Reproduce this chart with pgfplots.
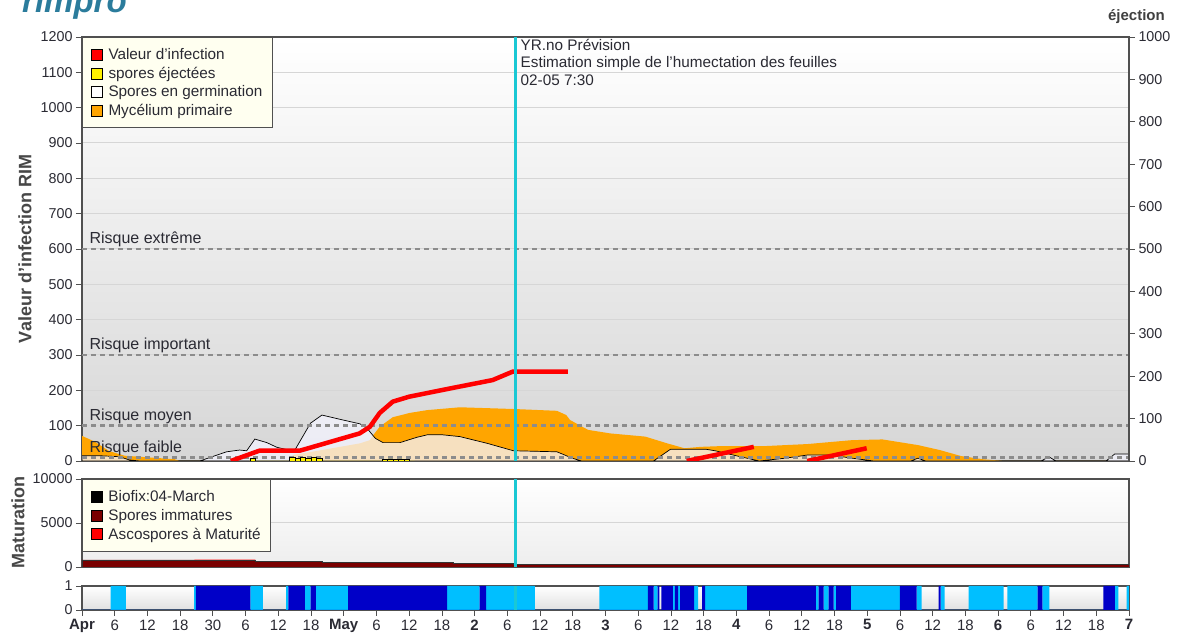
\documentclass[border=0pt]{standalone}
\usepackage{fontspec}
\setmainfont{Liberation Sans}
\usepackage{pgfplots}
\pgfplotsset{compat=1.18}
\definecolor{orangeM}{HTML}{FFA500}
\definecolor{lblue}{HTML}{00BFFF}
\definecolor{dblue}{HTML}{0000C8}
\definecolor{cyanV}{HTML}{1AC8D4}
\definecolor{axgray}{HTML}{505050}
\definecolor{txt}{HTML}{2A2A33}
\definecolor{darkredM}{HTML}{7A0000}
\definecolor{legbg}{HTML}{FFFFF0}
\definecolor{logo}{HTML}{2B7C9C}
\definecolor{germ}{HTML}{F4F4FF}
\pgfplotsset{
  every axis/.append style={
    scale only axis,
    /pgf/number format/assume math mode=true,
    /pgf/number format/set thousands separator={},
    scaled y ticks=false,
    axis line style={axgray, line width=1.2pt},
    tick style={axgray, line width=0.8pt},
    tick align=outside, major tick length=6pt,
    yticklabel style={font=\fontsize{14.3}{16}\selectfont, text=txt},
    xticklabel style={font=\fontsize{15}{17}\selectfont, text=txt},
    grid style={black!16, line width=1pt},
    legend image code/.code={\draw[#1, draw=black, line width=0.6pt] (0pt,-5.5pt) rectangle (11pt,5.5pt); \path (15pt,0pt);},
  },
  riskline/.style={black!45, line width=2.4pt, dash pattern=on 5pt off 4pt, forget plot},
}
\tikzset{risklabel/.style={anchor=base west, font=\fontsize{16}{18}\selectfont, text=txt, xshift=4pt, yshift=5pt}}
\begin{document}
\begin{tikzpicture}
\useasboundingbox (0pt,0pt) rectangle (1184pt,636pt);
% logo and right title
\node[anchor=base west, inner sep=0pt, font=\fontsize{33}{36}\selectfont\bfseries\itshape, text=logo] at (22pt,623pt) {rimpro};
\node[anchor=base east, inner sep=0pt, font=\fontsize{15}{17}\selectfont\bfseries, text=black!75] at (1165pt,615pt) {éjection};

% ================= MAIN PANEL =================
\begin{axis}[
  at={(82pt,175pt)}, anchor=south west,
  width=1047pt, height=424pt,
  xmin=0, xmax=192, ymin=0, ymax=1200,
  xtick=\empty, ytick={0,100,...,1200}, ytick pos=left,
  ymajorgrids,
  axis background/.style={top color=white, bottom color=black!16},
  ylabel={\bfseries Valeur d'infection RIM},
  ylabel style={at={(axis description cs:-0.0545,0.5)}, anchor=center, font=\fontsize{18}{20}\selectfont, text=black!72},
  legend style={at={(axis description cs:0,1)}, anchor=north west, fill=legbg, draw=axgray, line width=1.2pt,
    font=\fontsize{15.3}{17}\selectfont, text=txt, cells={anchor=west}, row sep=1.8pt, inner xsep=8pt, inner ysep=9pt},
]
% Mycelium primaire
\addplot[fill=orangeM, draw=none, forget plot] coordinates {
(0,71)(2.3,55)(5,28)(7.8,15)(12.4,10)(17,5)(17.9,0)(38.1,0)(38.7,17)(43.6,30)(47.3,40)(51,50)(52.8,59)(53.5,75)(54.6,97)(57,124)(60.1,136)(63.3,144)(69.3,152)(75.4,149)(79.4,147)(87.1,142)(88.8,130)(89.5,116)(92.8,88)(96.9,78)(103.3,69)(107.3,50)(110.5,36)(113.4,40)(116.9,42)(125,42)(133.1,48)(141.2,59)(146.8,61)(153.3,45)(157.3,31)(161.2,14)(165.2,5)(169.2,0)(192,0)} \closedcycle;
% Spores en germination
\addplot[fill=germ, fill opacity=0.75, draw=black, line width=0.7pt, forget plot] coordinates {
(0,15)(3.2,15)(6.9,12)(8.7,3)(10.6,0)(21.6,0)(26.5,26)(28.9,31)(30.2,29)(31.7,62)(33.9,52)(35.7,39)(38.4,29)(39,30)(41.9,107)(44,130)(47.3,118)(51,105)(52.3,92)(53.8,64)(55.2,52)(58.3,52)(61.4,67)(63.3,74)(66.2,74)(69.3,69)(74.3,50)(79.1,29)(87.1,26)(89.9,8)(91.6,0)(104.8,0)(107.9,33)(114.5,33)(116.1,29)(120.2,14)(124.2,0)(129,8)(133.1,17)(137.1,17)(141.2,8)(145.2,0)(152,0)(153.3,8)(154.7,0)(175.9,0)(177.3,12)(178.6,0)(187.8,0)(189.4,20)(192,20)} \closedcycle;
% risk lines
\addplot[riskline] coordinates {(0,600)(192,600)};
\addplot[riskline] coordinates {(0,300)(192,300)};
\addplot[riskline] coordinates {(0,100)(192,100)};
\addplot[riskline] coordinates {(0,10)(192,10)};
\node[risklabel] at (axis cs:0,600) {Risque extrême};
\node[risklabel] at (axis cs:0,300) {Risque important};
\node[risklabel] at (axis cs:0,100) {Risque moyen};
\node[risklabel] at (axis cs:0,10) {Risque faible};
% Valeur d'infection
\addplot[red, line width=4.5pt, line join=round, forget plot] coordinates {
(27.3,0)(32.5,29)(39.9,29)(50.9,78)(52.8,97)(54.6,136)(57,168)(60,182)(67.4,205)(75.3,229)(79,253)(89.1,253)};
\addplot[red, line width=4.5pt, forget plot] coordinates {(110.9,0)(123.2,40)};
\addplot[red, line width=4.5pt, forget plot] coordinates {(133,0)(143.9,36)};
% now line
\addplot[cyanV, line width=3pt, forget plot] coordinates {(79.5,0)(79.5,1200)};
\node[anchor=north west, align=left, font=\fontsize{15.3}{17.5}\selectfont, text=txt, inner sep=0pt, xshift=5pt, yshift=-2pt] at (axis cs:79.5,1200)
  {YR.no Prévision\\Estimation simple de l'humectation des feuilles\\02-05 7:30};
% legend
\addlegendimage{fill=red}\addlegendentry{Valeur d'infection}
\addlegendimage{fill=yellow}\addlegendentry{spores éjectées}
\addlegendimage{fill=white}\addlegendentry{Spores en germination}
\addlegendimage{fill=orangeM}\addlegendentry{Mycélium primaire}
\end{axis}

% right axis: spores ejectees
\begin{axis}[
  at={(82pt,175pt)}, anchor=south west,
  width=1047pt, height=424pt,
  xmin=0, xmax=192, ymin=0, ymax=1000,
  axis y line*=right, axis x line=none,
  ytick={0,100,...,1000},
]
\addplot[ybar interval, fill=yellow, draw=black, line width=0.3pt] coordinates {
(30.8,6)(31.8,0)(38,8)(39,7)(40,8)(41,6)(42,8)(43,7)(44,0)(55,4)(56,5)(57,4)(58,5)(59,4)(60,0)(61,0)};
\end{axis}

% ================= MATURATION =================
\begin{axis}[
  at={(82pt,69pt)}, anchor=south west,
  width=1047pt, height=88pt,
  xmin=0, xmax=192, ymin=0, ymax=10000,
  xtick=\empty, ytick={0,5000,10000}, ytick pos=left,
  ymajorgrids,
  axis background/.style={top color=white, bottom color=black!7},
  ylabel={\bfseries Maturation},
  ylabel style={at={(axis description cs:-0.0612,0.5)}, anchor=center, font=\fontsize{18}{20}\selectfont, text=black!72},
  legend style={at={(axis description cs:0,1)}, anchor=north west, fill=legbg, draw=axgray, line width=1.2pt,
    font=\fontsize{15.3}{17}\selectfont, text=txt, cells={anchor=west}, row sep=2pt, inner xsep=8pt, inner ysep=9pt},
]
\addplot[const plot, fill=red, draw=none, forget plot] coordinates {(20.6,850)(31.8,0)} \closedcycle;
\addplot[const plot, fill=darkredM, draw=black!80, line width=0.5pt, forget plot] coordinates {
(0,800)(20.6,750)(31.8,650)(44.1,500)(68,450)(79,300)(192,300)} \closedcycle;
\addplot[cyanV, line width=3pt, forget plot] coordinates {(79.5,0)(79.5,10000)};
\addlegendimage{fill=black}\addlegendentry{Biofix:04-March}
\addlegendimage{fill=darkredM}\addlegendentry{Spores immatures}
\addlegendimage{fill=red}\addlegendentry{Ascospores à Maturité}
\end{axis}

% ================= WETNESS STRIP =================
\begin{axis}[
  at={(82pt,26pt)}, anchor=south west,
  width=1047pt, height=24pt,
  xmin=0, xmax=192, ymin=0, ymax=1,
  ytick={0,1}, ytick pos=left, xtick pos=bottom,
  xtick={0,6,...,192},
  xticklabels={{\bfseries Apr},6,12,18,30,6,12,18,{\bfseries May},6,12,18,{\bfseries 2},6,12,18,{\bfseries 3},6,12,18,{\bfseries 4},6,12,18,{\bfseries 5},6,12,18,{\bfseries 6},6,12,18,{\bfseries 7}},
  axis background/.style={top color=white, bottom color=black!12},
]
\addplot[const plot, fill=lblue, draw=none] coordinates {
(0,0)(5.23,1)(8.04,0)(20.55,1)(20.9,0)(30.89,1)(33.15,0)(37.43,1)(37.85,0)(40.86,1)(41.93,0)(42.88,1)(48.82,0)(66.94,1)(72.9,0)(74.1,1)(83.03,0)(94.9,1)(103.77,0)(104.83,1)(105.55,0)(108.37,1)(108.7,0)(109.3,1)(109.7,0)(112.27,1)(112.98,0)(114.25,1)(121.98,0)(134.6,1)(135.1,0)(136,1)(136.9,0)(137.85,1)(138.3,0)(141,1)(150,0)(153.04,1)(153.96,0)(157.45,1)(158.2,0)(162.6,1)(169,0)(169.7,1)(175.25,0)(176.1,1)(177.4,0)(189.4,1)(190.05,0)(191.55,1)(192,1)} \closedcycle;
\addplot[const plot, fill=dblue, draw=none] coordinates {
(0,0)(20.9,1)(30.89,0)(37.85,1)(40.86,0)(41.93,1)(42.88,0)(48.82,1)(66.94,0)(72.9,1)(74.1,0)(103.77,1)(104.83,0)(105.55,1)(105.9,0)(106.24,1)(108.37,0)(108.7,1)(109.3,0)(109.7,1)(112.27,0)(113.7,1)(114.25,0)(121.98,1)(134.6,0)(135.1,1)(136,0)(136.9,1)(137.85,0)(138.3,1)(141,0)(150,1)(153.04,0)(157.08,1)(157.45,0)(175.25,1)(176.1,0)(187.3,1)(189.4,0)(192,0)} \closedcycle;
\addplot[cyanV, line width=3pt] coordinates {(79.5,0)(79.5,1)};
\end{axis}
\end{tikzpicture}
\end{document}
